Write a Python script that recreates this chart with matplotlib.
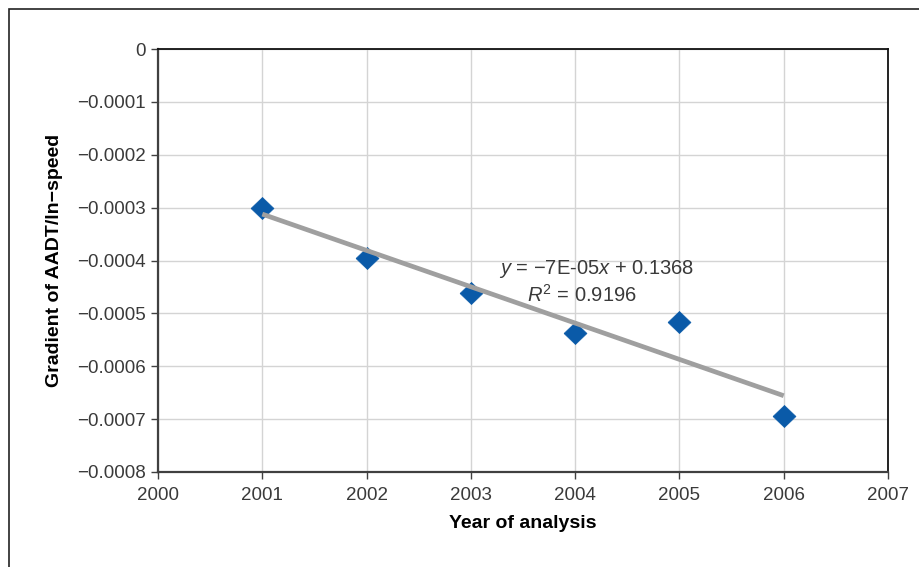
import numpy as np
import matplotlib
matplotlib.use('Agg')
import matplotlib.pyplot as plt
from matplotlib.patches import Rectangle
from matplotlib.ticker import FuncFormatter

plt.rcParams['font.family'] = ['Liberation Sans', 'DejaVu Sans']
plt.rcParams['mathtext.fontset'] = 'custom'
plt.rcParams['mathtext.rm'] = 'Liberation Sans'
plt.rcParams['mathtext.it'] = 'Liberation Sans:italic'

# data
years = [2001, 2002, 2003, 2004, 2005, 2006]
gradient = [-0.000301, -0.000395, -0.000461, -0.000537, -0.000516, -0.000694]

xticks = [2000, 2001, 2002, 2003, 2004, 2005, 2006, 2007]
yticks = [0, -0.0001, -0.0002, -0.0003, -0.0004, -0.0005, -0.0006, -0.0007, -0.0008]

eq_text = r'$y$ = −7E-05$x$ + 0.1368'
r2_text = r'$R^{\mathrm{2}}$ = 0.9196'

W, H = 919, 567
fig = plt.figure(figsize=(W / 100, H / 100), dpi=100)

# outer frame (right and bottom edges run off the picture)
top = 1 - 8.5 / H
fig.patches.append(Rectangle((8.5 / W, -0.2), 1.2, top + 0.2, transform=fig.transFigure,
                             fill=False, ec='#222222', lw=1.2))

ax = fig.add_axes([158 / W, 1 - 472 / H, (888 - 158) / W, (472 - 49) / H])

ax.set_xlim(2000, 2007)
ax.set_ylim(-0.0008, 0)
ax.set_xticks(xticks)
ax.set_yticks(yticks)

def yfmt(v, pos):
    if abs(v) < 1e-12:
        return '0'
    return '−%.4f' % abs(v)

ax.yaxis.set_major_formatter(FuncFormatter(yfmt))
ax.xaxis.set_major_formatter(FuncFormatter(lambda v, p: '%d' % v))

ax.grid(True, color='#d4d4d4', lw=1.0)
ax.set_axisbelow(True)

for s in ['left', 'bottom']:
    ax.spines[s].set_color('#404040')
    ax.spines[s].set_linewidth(1.6)
for s in ['top', 'right']:
    ax.spines[s].set_color('#111111')
    ax.spines[s].set_linewidth(1.3)

ax.tick_params(axis='both', direction='out', length=5, width=1.0, color='#404040',
               labelsize=13.5, labelcolor='#3a3a3a')
ax.tick_params(axis='y', pad=4)
ax.tick_params(axis='x', pad=6)

# markers
diamond = [(-1.04, 0), (0, 1), (1.04, 0), (0, -1), (-1.04, 0)]
ax.plot(years, gradient, ls='none', marker=diamond, ms=16.5, color='#0a5aa8',
        mec='#0a5aa8', mew=0.5, zorder=3, clip_on=False)

# linear trendline
k, b = np.polyfit(years, gradient, 1)
tx = np.array([years[0], years[-1]])
ax.plot(tx, k * tx + b, color='#9f9f9f', lw=3.4, solid_capstyle='butt', zorder=4)

ax.text(2004.21, -0.000416, eq_text, fontsize=14.5, color='#3a3a3a', ha='center', va='center')
ax.text(2004.07, -0.000465, r2_text, fontsize=14.5, color='#3a3a3a', ha='center', va='center')

ax.set_xlabel('Year of analysis', fontsize=14, fontweight='bold', labelpad=8)
ax.set_ylabel('Gradient of AADT/ln−speed', fontsize=14, fontweight='bold', labelpad=10)

fig.savefig('out.png', dpi=100)
